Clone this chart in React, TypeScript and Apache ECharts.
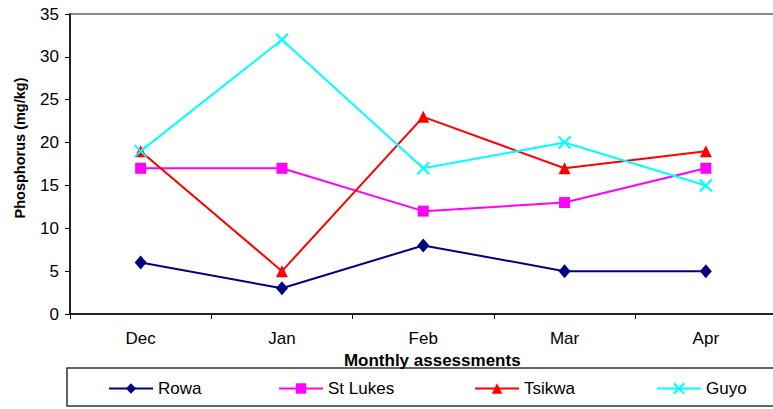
import React, { useEffect, useRef } from "react";
import * as echarts from "echarts";

const categories = ["Dec", "Jan", "Feb", "Mar", "Apr"];
const seriesNames = ["Rowa", "St Lukes", "Tsikwa", "Guyo"];
const rowa = [6, 3, 8, 5, 5];
const stLukes = [17, 17, 12, 13, 17];
const tsikwa = [19, 5, 23, 17, 19];
const guyo = [19, 32, 17, 20, 15];

const FONT = "'Liberation Sans', Arial, sans-serif";
const CROSS = "path://M0,0L10,10M10,0L0,10";

export default function App() {
  const ref = useRef<HTMLDivElement>(null);
  useEffect(() => {
    if (!ref.current) return;
    const chart = echarts.init(ref.current, null, { renderer: "svg" });
    const mk = (name: string, data: number[], color: string, symbol: string, size: number | number[], cross = false) => ({
      name,
      type: "line",
      data,
      symbol,
      symbolSize: size,
      showSymbol: true,
      lineStyle: { color, width: 2 },
      itemStyle: cross
        ? { color: "none", borderColor: color, borderWidth: 2 }
        : { color, borderWidth: 0 },
      z: 3,
    });
    const legendLefts = [103, 273, 469, 651];
    chart.setOption({
      animation: false,
      textStyle: { fontFamily: FONT },
      grid: {
        left: 70,
        top: 14,
        width: 706.5,
        height: 300,
        show: true,
        borderColor: "#888888",
        borderWidth: 2,
        backgroundColor: "transparent",
      },
      xAxis: {
        type: "category",
        data: categories,
        boundaryGap: true,
        axisLine: { lineStyle: { color: "#000", width: 1.5 } },
        axisTick: { show: true, length: 5, inside: false, lineStyle: { color: "#000" } },
        axisLabel: { color: "#000", fontSize: 17, margin: 16, fontFamily: FONT },
        name: "Monthly assessments",
        nameLocation: "middle",
        nameGap: 31,
        nameTextStyle: { fontWeight: "bold", fontSize: 17, color: "#000", fontFamily: FONT, padding: [0, 0, 0, 18] },
      },
      yAxis: {
        type: "value",
        min: 0,
        max: 35,
        interval: 5,
        splitLine: { show: false },
        axisLine: { show: true, lineStyle: { color: "#000", width: 1.5 } },
        axisTick: { show: true, length: 5, lineStyle: { color: "#000" } },
        axisLabel: { color: "#000", fontSize: 17, margin: 11, fontFamily: FONT },
      },
      legend: seriesNames.map((n, i) => ({
        left: legendLefts[i],
        top: 375,
        itemWidth: 44,
        itemHeight: 13,
        textStyle: { fontSize: 17, color: "#000", fontFamily: FONT },
        data: [n],
      })),
      graphic: [
        {
          type: "rect",
          shape: { x: 67, y: 368, width: 720, height: 38 },
          style: { fill: "none", stroke: "#333", lineWidth: 1.5 },
          silent: true,
        },
        {
          type: "text",
          x: 20,
          y: 148,
          rotation: Math.PI / 2,
          style: {
            text: "Phosphorus (mg/kg)",
            font: "bold 14.5px 'Liberation Sans', Arial, sans-serif",
            fill: "#000",
            align: "center",
            verticalAlign: "middle",
          },
          silent: true,
        },
      ],
      series: [
        mk("Rowa", rowa, "#000080", "diamond", [12, 14]),
        mk("St Lukes", stLukes, "#FF00FF", "rect", 11),
        mk("Tsikwa", tsikwa, "#FF0000", "triangle", 12),
        mk("Guyo", guyo, "#00FFFF", CROSS, 12, true),
      ],
    });
    return () => chart.dispose();
  }, []);
  return (
    <div style={{ position: "fixed", left: 0, top: 0, width: 773, height: 409, overflow: "hidden", background: "#fff" }}>
      <div ref={ref} style={{ width: 790, height: 409 }} />
    </div>
  );
}
